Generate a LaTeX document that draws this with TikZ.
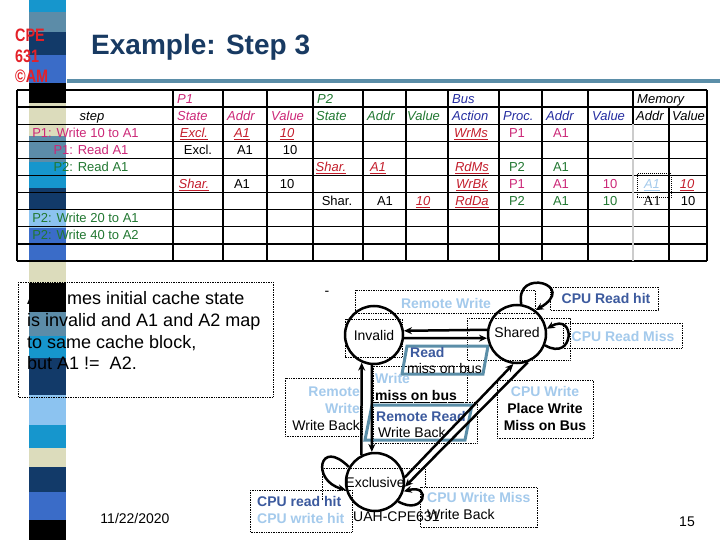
\documentclass[tikz,border=0pt]{standalone}
\usepackage{fontspec}
\setmainfont{Liberation Sans}
\newfontfamily\timesfont{Liberation Serif}
\newfontfamily\logofont[FakeStretch=0.8]{Liberation Sans}
\usetikzlibrary{arrows.meta, positioning}

\definecolor{titlenavy}{RGB}{24,58,98}
\definecolor{rulesteel}{RGB}{91,142,168}
\definecolor{logored}{RGB}{228,32,40}
\definecolor{ponecol}{RGB}{204,40,120}
\definecolor{ptwocol}{RGB}{34,120,50}
\definecolor{buscol}{RGB}{36,44,160}
\definecolor{chgred}{RGB}{196,30,44}
\definecolor{lbldark}{RGB}{60,90,158}
\definecolor{lbllight}{RGB}{164,202,236}
\definecolor{barcyan}{RGB}{22,150,205}
\definecolor{bargrey}{RGB}{92,140,168}
\definecolor{barnavy}{RGB}{18,58,105}
\definecolor{barblue}{RGB}{58,108,200}
\definecolor{barbeige}{RGB}{220,220,188}
\definecolor{barlight}{RGB}{140,195,240}

\begin{document}
\begin{tikzpicture}[x=1pt, y=-1pt,
    every node/.style={font=\fontsize{14}{17}\selectfont, inner sep=0pt},
    cell/.style={anchor=base, font=\fontsize{13}{15}\selectfont},
    hdr/.style={anchor=base west, font=\fontsize{13}{15}\selectfont\itshape},
    chg/.style={cell, text=chgred, font=\fontsize{13}{15}\selectfont\itshape},
    lbl/.style={font=\fontsize{14}{17}\selectfont\bfseries},
    tabline/.style={line width=1.2pt},
    dotbox/.style={draw, densely dotted, line width=0.7pt},
    pbox/.style={draw=rulesteel, line width=3pt},
    statenode/.style={draw, circle, line width=2.5pt, minimum size=58pt},
    arr/.style={line width=2.5pt, -{Stealth[length=8pt, width=7pt]}}
]
    \fill[white] (0,0) rectangle (720,540);
    \useasboundingbox (0,0) rectangle (720,540);

    % Side bar
    \foreach \ya/\yb/\col in {0/12/barcyan, 12/32/bargrey, 32/55/barnavy, 55/83/barblue,
        83/103/black, 103/136/barbeige, 136/162/bargrey, 162/188/barcyan, 188/210/barnavy,
        210/228/barlight, 228/262/barblue, 262/283/barbeige, 283/312/black, 312/336/bargrey,
        336/358/barcyan, 358/395/barnavy, 395/425/barlight, 425/448/barcyan, 448/467/barbeige,
        467/492/barnavy, 492/520/barblue, 520/540/black}
        \fill[\col] (29,\ya) rectangle (66,\yb);

    % Title
    \node (logoa) [anchor=base west, text=logored, font=\logofont\bfseries\fontsize{18}{21}\selectfont] at (15,42) {CPE};
    \node (logob) [anchor=base west, text=logored, font=\logofont\bfseries\fontsize{18}{21}\selectfont] at (15,63) {631};
    \node (logoc) [anchor=base west, text=logored, font=\logofont\bfseries\fontsize{18}{21}\selectfont] at (15,83) {©AM};
    \node (title) [anchor=base west, text=titlenavy, font=\fontsize{28}{32}\selectfont\bfseries] at (91,55) {Example: Step 3};
    \draw[rulesteel, line width=4pt] (67,81.5) -- (720,81.5);

    % Table grid
    \foreach \k in {0,...,10}
        \draw[tabline] (17,{90+17.1*\k}) -- (707,{90+17.1*\k});
    \foreach \x in {17,173,223,267,313,363,406,448,499,542,588,707}
        \draw[tabline] (\x,90) -- (\x,261);
    \draw[tabline] (669,107.1) -- (669,261);
    \draw[tabline] (633,90) -- (633,124.2);
    \draw[tabline, gray!40] (633,124.2) -- (633,261);

    % Table (Row 1)
    \node (hpone) [hdr, text=ponecol] at (177,103.2) {P1};
    \node (hptwo) [hdr, text=ptwocol] at (317,103.2) {P2};
    \node (hbus) [hdr, text=buscol] at (452,103.2) {Bus};
    \node (hmem) [hdr] at (637,103.2) {Memory};

    % Table (Row 2)
    \node (hstep) [cell, font=\fontsize{13}{15}\selectfont\itshape] at (92,120.3) {step};
    \node (honest) [hdr, text=ponecol] at (177,120.3) {State};
    \node (honead) [hdr, text=ponecol] at (227,120.3) {Addr};
    \node (honeval) [hdr, text=ponecol] at (271,120.3) {Value};
    \node (htwost) [hdr, text=ptwocol] at (316,120.3) {State};
    \node (htwoad) [hdr, text=ptwocol] at (367,120.3) {Addr};
    \node (htwoval) [hdr, text=ptwocol] at (407,120.3) {Value};
    \node (hbusact) [hdr, text=buscol] at (452,120.3) {Action};
    \node (hbusproc) [hdr, text=buscol] at (503,120.3) {Proc.};
    \node (hbusad) [hdr, text=buscol] at (546,120.3) {Addr};
    \node (hbusval) [hdr, text=buscol] at (592,120.3) {Value};
    \node (hmemad) [hdr] at (636,120.3) {Addr};
    \node (hmemval) [hdr] at (672,120.3) {Value};

    % Table (Row 3)
    \node (sa) [cell, text=ponecol] at (85.5,137.4) {P1: Write 10 to A1};
    \node (sastate) [chg] at (194,137.4) {\underline{Excl.}};
    \node (saaddr) [chg] at (242,137.4) {\underline{A1}};
    \node (saval) [chg] at (287,137.4) {\underline{10}};
    \node (saact) [chg] at (471,137.4) {\underline{WrMs}};
    \node (saproc) [cell, text=ponecol] at (517,137.4) {P1};
    \node (sabusad) [cell, text=ponecol] at (561,137.4) {A1};

    % Table (Row 4)
    \node (sb) [cell, text=ponecol] at (91,154.5) {P1: Read A1};
    \node (sbstate) [cell] at (198,154.5) {Excl.};
    \node (sbaddr) [cell] at (245,154.5) {A1};
    \node (sbval) [cell] at (290,154.5) {10};

    % Table (Row 5)
    \node (sc) [cell, text=ptwocol] at (91,171.6) {P2: Read A1};
    \node (scstate) [chg] at (331,171.6) {\underline{Shar.}};
    \node (scaddr) [chg] at (378,171.6) {\underline{A1}};
    \node (scact) [chg] at (472,171.6) {\underline{RdMs}};
    \node (scproc) [cell, text=ptwocol] at (517,171.6) {P2};
    \node (scbusad) [cell, text=ptwocol] at (561,171.6) {A1};

    % Table (Row 6)
    \node (sdstate) [chg] at (194,188.7) {\underline{Shar.}};
    \node (sdaddr) [cell] at (242,188.7) {A1};
    \node (sdval) [cell] at (287,188.7) {10};
    \node (sdact) [chg] at (472,188.7) {\underline{WrBk}};
    \node (sdproc) [cell, text=ponecol] at (517,188.7) {P1};
    \node (sdbusad) [cell, text=ponecol] at (561,188.7) {A1};
    \node (sdbusval) [cell, text=ponecol] at (610,188.7) {10};
    \node (sdmemad) [cell, text=lbllight, font=\fontsize{13}{15}\selectfont\itshape] at (652,188.7) {\underline{A1}};
    \node (sdmemval) [chg] at (687,188.7) {\underline{10}};
    \draw[dotbox, line width=1pt] (637,174) rectangle (671,198);

    % Table (Row 7)
    \node (sestate) [cell] at (337,205.8) {Shar.};
    \node (seaddr) [cell] at (385,205.8) {A1};
    \node (seval) [chg] at (423,205.8) {\underline{10}};
    \node (seact) [chg] at (472,205.8) {\underline{RdDa}};
    \node (seproc) [cell, text=ptwocol] at (517,205.8) {P2};
    \node (sebusad) [cell, text=ptwocol] at (561,205.8) {A1};
    \node (sebusval) [cell, text=ptwocol] at (610,205.8) {10};
    \node (sememad) [cell, font=\timesfont\fontsize{14}{15}\selectfont] at (652,205.8) {A1};
    \node (sememval) [cell] at (688,205.8) {10};

    % Table (Rows 8, 9)
    \node (sf) [cell, text=ptwocol] at (85.5,222.9) {P2: Write 20 to A1};
    \node (sg) [cell, text=ptwocol] at (85.5,240.0) {P2: Write 40 to A2};

    % Assumption
    \draw[dotbox] (18,282) rectangle (273,397);
    \node (assume) [anchor=west, align=left, font=\fontsize{18}{21.7}\selectfont] at (27,331)
        {Assumes initial cache state\\is invalid and A1 and A2 map\\to same cache block,\\but A1 != \ A2.};

    % Label frames
    \draw[dotbox] (355,290) rectangle (535,313);
    \draw[dotbox] (550,287) rectangle (658,310);
    \draw[dotbox] (467,318) rectangle (570,360);
    \draw[dotbox] (563,323) rectangle (682,348);
    \draw[dotbox] (345,319) rectangle (402,357);
    \draw[dotbox] (373,366) rectangle (467,402);
    \draw[dotbox] (373,402) rectangle (477,443);
    \draw[dotbox] (285,378) rectangle (362,436);
    \draw[dotbox] (497,380) rectangle (593,438);
    \draw[dotbox] (322,500) -- (322,468) -- (425,468) -- (425,487);
    \draw[dotbox] (250,490) rectangle (352,532);
    \draw[dotbox] (420,487) rectangle (537,527);
    \draw[pbox] (407,346) -- (488,346) -- (483,374) -- (402,374) -- cycle;
    \draw[pbox] (372,405) -- (472,405) -- (465,440) -- (365,440) -- cycle;

    % Labels
    \node (dash) at (327,293) {-};
    \node (rwtxt) [lbl, text=lbllight] at (446,303) {Remote Write};
    \node (crhtxt) [lbl, text=lbldark] at (606,298) {CPU Read hit};
    \node (crmtxt) [lbl, text=lbllight] at (623,336) {CPU Read Miss};
    \node (rdtxt) [lbl, anchor=west, text=lbldark] at (410,352) {Read};
    \node (rdbus) [anchor=west] at (407,368) {miss on bus};
    \node (wrtxt) [lbl, anchor=west, text=lbllight] at (375,378) {Write};
    \node (wrbus) [lbl, anchor=west] at (375,395) {miss on bus};
    \node (rwbtxt) [anchor=east, align=right] at (360,408.5)
        {\textbf{\color{lbllight}Remote}\\\textbf{\color{lbllight}Write}\\Write Back};
    \node (rrtxt) [lbl, anchor=west, text=lbldark] at (376,416) {Remote Read};
    \node (rrwb) [anchor=west] at (378,432) {Write Back};
    \node (cwtxt) [lbl, align=center] at (545,408.5)
        {{\color{lbllight}CPU Write}\\Place Write\\Miss on Bus};
    \node (cpuhits) [lbl, anchor=west, align=left] at (257,509.5)
        {{\color{lbldark}CPU read hit}\\{\color{lbllight}CPU write hit}};
    \node (cwmtxt) [anchor=west, align=left] at (427,506)
        {\textbf{\color{lbllight}CPU Write Miss}\\Write Back};

    % States
    \node (inv) [statenode] at (374,335) {Invalid};
    \node (shr) [statenode] at (517,334) {\raisebox{2.5pt}{Shared}};
    \node (exc) [statenode] at (375,482) {\makebox[0pt]{Exclusive}};

    % Transitions
    \draw[arr] (shr.172) -- (inv.8);
    \draw[arr] (inv.-6) -- (shr.188);
    \draw[arr] (exc.117) -- (inv.246);
    \draw[arr] (inv.266) -- (exc.96);
    \draw[arr] (exc.9) -- (shr.263);
    \draw[arr] (shr.291) -- (exc.351);
    \draw[arr] (shr.82) .. controls +(100:38pt) and +(30:50pt) .. (shr.52);
    \draw[arr] (shr.-22) .. controls +(-30:34pt) and +(30:34pt) .. (shr.10);
    \draw[arr] (exc.150) .. controls +(135:42pt) and +(165:36pt) .. (exc.195);
    \draw[arr] (exc.-40) .. controls +(-30:30pt) and +(15:30pt) .. (exc.-18);

    % Footer
    \node (date) at (135,518) {11/22/2020};
    \node (foot) [anchor=west] at (353,517) {UAH-CPE631};
    \node (pageno) at (687,522) {15};
\end{tikzpicture}
\end{document}
